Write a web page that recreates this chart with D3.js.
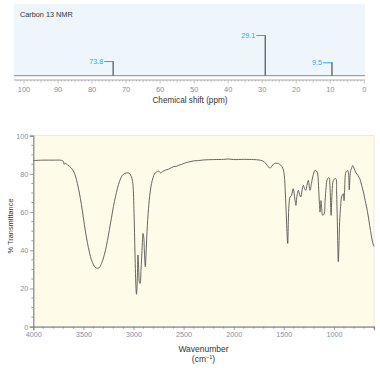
<!DOCTYPE html>
<html>
<head>
<meta charset="utf-8">
<script src="https://cdn.jsdelivr.net/npm/d3@7"></script>
<style>
  body { margin: 0; background: #fff; }
  svg { display: block; font-family: "Liberation Sans", Arial, sans-serif; }
</style>
</head>
<body>
<div id="chart"></div>
<script>
// 13C NMR peaks: shift (ppm) and relative height
const nmrShifts = [73.8, 29.1, 9.5];
const nmrHeights = [36, 100, 33];
const nmrTicks = [100, 90, 80, 70, 60, 50, 40, 30, 20, 10, 0];

// IR spectrum: wavenumber (cm-1) and % transmittance
const irWave = [4000, 3900, 3800, 3720, 3700, 3690, 3680, 3660, 3640, 3620, 3600, 3580, 3560, 3540, 3520, 3500,
  3480, 3460, 3440, 3420, 3400, 3380, 3360, 3340, 3320, 3300, 3280, 3260, 3240, 3220, 3200, 3180, 3160, 3140,
  3120, 3100, 3070, 3046, 3030, 3015, 3005, 2995, 2985, 2975, 2970, 2962, 2955, 2948, 2940, 2934, 2925, 2915,
  2905, 2898, 2890, 2882, 2875, 2865, 2850, 2835, 2820, 2805, 2790, 2770, 2750, 2730, 2710, 2680, 2650, 2620,
  2600, 2570, 2550, 2520, 2480, 2450, 2400, 2350, 2300, 2200, 2100, 2050, 2000, 1900, 1800, 1751, 1711, 1681,
  1650, 1638, 1620, 1600, 1580, 1550, 1530, 1510, 1495, 1485, 1475, 1465, 1461, 1455, 1448, 1438, 1425, 1415,
  1406, 1395, 1385, 1379, 1370, 1355, 1344, 1331, 1319, 1305, 1294, 1281, 1269, 1255, 1247, 1238, 1224, 1209,
  1189, 1174, 1162, 1154, 1144, 1139, 1134, 1129, 1122, 1112, 1098, 1088, 1078, 1065, 1048, 1040, 1034, 1028,
  1022, 1014, 1006, 988, 979, 973, 966, 960, 956, 950, 943, 933, 923, 906, 899, 893, 880, 863, 854, 847, 840,
  833, 823, 813, 803, 797, 778, 758, 741, 723, 703, 688, 674, 658, 643, 628, 613, 600];
const irTrans = [87, 87.2, 87.2, 87.1, 86.5, 85, 85.6, 84.8, 84, 83, 81.5, 79, 75, 70, 64, 57,
  50, 44, 39, 35, 32.5, 31, 30.6, 31, 33, 36, 40, 45, 51, 57, 63, 68, 72.5, 76,
  78.5, 79.8, 80.5, 80.4, 79.5, 77.5, 74, 60, 38, 20, 17, 25, 37.5, 30, 23, 22.7, 30, 40,
  48.8, 47, 38, 31.4, 38, 50, 62, 70, 75, 78, 80, 81, 81.5, 80.5, 81.2, 82, 82.5, 83.3,
  83.8, 84, 84.5, 85, 85.8, 86.2, 86.8, 87, 87.3, 87.5, 87.6, 87.8, 87.5, 87.6, 87.5, 87.3, 86.8, 85.5,
  83.5, 83, 84, 85.3, 85.6, 85.3, 84.5, 83, 79, 70, 58, 46, 43.6, 55, 64, 67.9, 68.5, 70.5,
  72.2, 69, 65, 63.5, 68, 71.4, 69.5, 67.9, 71, 74, 72.5, 71.4, 74, 76.6, 74, 71.4, 75, 79,
  81.8, 81.5, 80, 74, 64, 60, 62, 66, 62, 58.3, 59, 66, 73, 77.4, 78, 74, 66, 58.3,
  66, 74, 76.6, 77.6, 77.4, 70, 55, 40, 34, 42, 55, 63, 67.9, 69.6, 66, 72, 80.9, 81.8, 80, 71.7, 78,
  81.8, 83, 84.4, 83.5, 82.6, 80.5, 79, 77.4, 74, 70, 66, 62.7, 58, 53, 48, 44, 42];
const irXTicks = [4000, 3500, 3000, 2500, 2000, 1500, 1000];
const irYTicks = [0, 20, 40, 60, 80, 100];

const width = 380, height = 368;
const labelColor = "#8090a8";
const axisColor = "#888";

const svg = d3.select("#chart").append("svg")
  .attr("width", width)
  .attr("height", height);

// ---------- NMR panel ----------
const nmrX = d3.scaleLinear().domain([100, 0]).range([24, 364.3]);
const nmrY = d3.scaleLinear().domain([0, 100]).range([75.7, 35]);

svg.append("rect")
  .attr("x", 14).attr("y", 4)
  .attr("width", 351).attr("height", 71.7)
  .attr("fill", "#eef6fc");

svg.append("line")
  .attr("x1", 14).attr("x2", 365)
  .attr("y1", 75.7).attr("y2", 75.7)
  .attr("stroke", "#8a8a8a").attr("stroke-width", 1);

svg.append("text")
  .attr("x", 20).attr("y", 16.5)
  .attr("font-size", 7.3)
  .attr("fill", "#333")
  .text("Carbon 13 NMR");

// ruler under the spectrum
const ruler = svg.append("g");
ruler.append("line")
  .attr("x1", 14).attr("x2", 365)
  .attr("y1", 80).attr("y2", 80)
  .attr("stroke", "#9a9a9a").attr("stroke-width", 0.8);
ruler.selectAll(".rtick")
  .data(d3.range(0, 103))
  .enter().append("line")
  .attr("x1", d => nmrX(d)).attr("x2", d => nmrX(d))
  .attr("y1", 80)
  .attr("y2", d => 80 + (d % 10 === 0 ? 3.5 : (d % 5 === 0 ? 2.5 : 1.5)))
  .attr("stroke", "#9a9a9a").attr("stroke-width", 0.6);
ruler.selectAll(".rlabel")
  .data(nmrTicks)
  .enter().append("text")
  .attr("x", d => nmrX(d)).attr("y", 91.8)
  .attr("text-anchor", "middle")
  .attr("font-size", 7.4)
  .attr("fill", labelColor)
  .text(d => d);

svg.append("text")
  .attr("x", 190).attr("y", 103)
  .attr("text-anchor", "middle")
  .attr("font-size", 8.2)
  .attr("fill", "#333")
  .text("Chemical shift (ppm)");

const peaks = nmrShifts.map((s, i) => ({ s: s, h: nmrHeights[i] }));
const pk = svg.append("g").selectAll("g").data(peaks).enter().append("g");
pk.append("line")
  .attr("x1", d => nmrX(d.s)).attr("x2", d => nmrX(d.s))
  .attr("y1", nmrY(0)).attr("y2", d => nmrY(d.h))
  .attr("stroke", "#666").attr("stroke-width", 1.4);
pk.append("line")
  .attr("x1", d => nmrX(d.s) - 9).attr("x2", d => nmrX(d.s) + 0.7)
  .attr("y1", d => nmrY(d.h) + 0.5).attr("y2", d => nmrY(d.h) + 0.5)
  .attr("stroke", "#29abe2").attr("stroke-width", 1);
pk.append("text")
  .attr("x", d => nmrX(d.s) - 10).attr("y", d => nmrY(d.h) + 3)
  .attr("text-anchor", "end")
  .attr("font-size", 7.2)
  .attr("fill", "#29abe2")
  .text(d => d.s.toFixed(1));

// ---------- IR panel ----------
const x = d3.scaleLinear().domain([4000, 600]).range([33.3, 374]);
const y = d3.scaleLinear().domain([0, 100]).range([326.7, 135.7]);

svg.append("rect")
  .attr("x", x(4000)).attr("y", y(100))
  .attr("width", x(600) - x(4000)).attr("height", y(0) - y(100))
  .attr("fill", "#fefbe8")
  .attr("stroke", "#ddd").attr("stroke-width", 0.6);

// minor ticks
const minorY = d3.range(0, 101, 5).filter(d => d % 20 !== 0);
svg.selectAll(".ymin").data(minorY).enter().append("line")
  .attr("x1", x(4000) - 2).attr("x2", x(4000))
  .attr("y1", d => y(d)).attr("y2", d => y(d))
  .attr("stroke", axisColor).attr("stroke-width", 0.8);
const minorX = d3.range(600, 4001, 100).filter(d => d % 500 !== 0);
svg.selectAll(".xmin").data(minorX).enter().append("line")
  .attr("x1", d => x(d)).attr("x2", d => x(d))
  .attr("y1", y(0)).attr("y2", y(0) + 2)
  .attr("stroke", axisColor).attr("stroke-width", 0.8);

const yAxis = svg.append("g")
  .attr("transform", `translate(${x(4000)},0)`)
  .call(d3.axisLeft(y).tickValues(irYTicks).tickSize(3.5).tickPadding(1.5));
const xAxis = svg.append("g")
  .attr("transform", `translate(0,${y(0)})`)
  .call(d3.axisBottom(x).tickValues(irXTicks).tickFormat(d3.format("d")).tickSize(3.5).tickPadding(2));

[xAxis, yAxis].forEach(g => {
  g.select(".domain").attr("stroke", axisColor).attr("stroke-width", 1.2);
  g.selectAll(".tick line").attr("stroke", axisColor).attr("stroke-width", 0.8);
  g.selectAll(".tick text")
    .attr("fill", labelColor)
    .attr("font-size", 7.2)
    .attr("font-family", "Liberation Sans, Arial, sans-serif");
});

const irData = irWave.map((w, i) => [w, irTrans[i]]);
svg.append("path")
  .datum(irData)
  .attr("fill", "none")
  .attr("stroke", "#555")
  .attr("stroke-width", 0.9)
  .attr("stroke-linejoin", "round")
  .attr("d", d3.line().x(d => x(d[0])).y(d => y(d[1])).curve(d3.curveCatmullRom.alpha(0.5)));

svg.append("text")
  .attr("transform", "translate(12.5,226) rotate(-90)")
  .attr("text-anchor", "middle")
  .attr("font-size", 7.4)
  .attr("fill", "#333")
  .text("% Transmittance");

svg.append("text")
  .attr("x", 203.5).attr("y", 352.3)
  .attr("text-anchor", "middle")
  .attr("font-size", 8.5)
  .attr("fill", "#333")
  .text("Wavenumber");

const unit = svg.append("text")
  .attr("x", 203.5).attr("y", 362)
  .attr("text-anchor", "middle")
  .attr("font-size", 8.5)
  .attr("fill", "#333");
unit.append("tspan").text("(cm");
unit.append("tspan").attr("dy", -3).attr("font-size", 5.5).text("−1");
unit.append("tspan").attr("dy", 3).text(")");
</script>
</body>
</html>
